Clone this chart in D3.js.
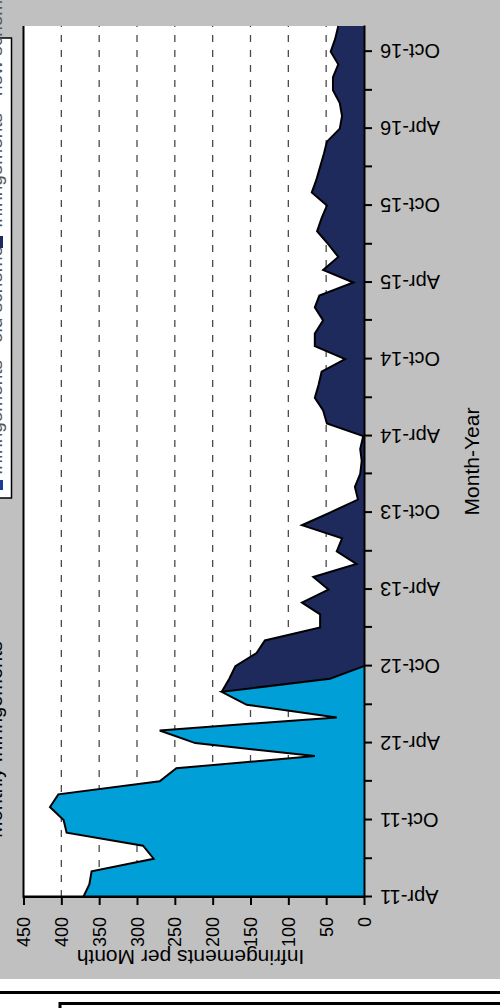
<!DOCTYPE html>
<html lang="en">
<head>
  <meta charset="UTF-8">
  <title>Infringements per Month</title>
  <script src="https://d3js.org/d3.v7.min.js"></script>
  <style>
    body {
      margin: 0;
      background: #fff;
      font-family: "Liberation Sans", Arial, sans-serif;
    }
    svg { display: block; }
    .axis path, .axis line {
      stroke: #000;
      stroke-width: 2px;
    }
    .axis text {
      fill: #000;
      font-family: "Liberation Sans", Arial, sans-serif;
    }
  </style>
</head>
<body>
  <div id="chart"></div>

  <script>
    // Month range of the chart (first and last month shown)
    const firstMonth = "Apr-11";
    const lastMonth = "Dec-16";

    // Old scheme, monthly from Apr-11 to Oct-12
    const oldStart = "Apr-11";
    const oldScheme = [371, 363, 360, 278, 292, 393, 397, 415, 404, 270, 248, 65,
      223, 270, 36, 155, 188, 45, 0];

    // New scheme, monthly from Aug-12 to Dec-16
    const newStart = "Aug-12";
    const newScheme = [188, 178, 170, 142, 131,
      58, 58, 82, 47, 67, 10, 36, 29, 82, 45, 8, 12,
      5, 3, 5, 1, 49, 54, 65, 60, 56, 25, 65, 65,
      54, 65, 59, 14, 54, 34, 47, 62, 56, 49, 69, 63,
      58, 53, 49, 32, 29, 32, 41, 41, 34, 44, 38, 34];

    const valueTicks = [0, 50, 100, 150, 200, 250, 300, 350, 400, 450];
    const gridValues = [50, 100, 150, 200, 250, 300, 350, 400];
    const labelMonths = ["Apr", "Oct"];

    const legendLabels = ["Infringements - old scheme", "Infringements - new scheme"];
    const titleText = "Monthly Infringements";

    const parseMonth = d3.utcParse("%b-%y");
    const fmtMonth = d3.utcFormat("%b-%y");

    const oldData = oldScheme.map((v, i) => ({ date: d3.utcMonth.offset(parseMonth(oldStart), i), value: v }));
    const newData = newScheme.map((v, i) => ({ date: d3.utcMonth.offset(parseMonth(newStart), i), value: v }));

    // The chart is drawn in a 1008x500 frame, then turned a quarter turn
    const fullW = 1008, fullH = 500;
    const margin = { top: 23.5, right: 26, bottom: 136, left: 111 };
    const width = fullW - margin.left - margin.right;
    const height = fullH - margin.top - margin.bottom;

    const svgRoot = d3.select("#chart").append("svg")
      .attr("width", fullH)
      .attr("height", fullW);

    const root = svgRoot.append("g")
      .attr("transform", `translate(0,${fullW}) rotate(-90)`);

    // Grey chart background and the bits of the next panel
    root.append("rect")
      .attr("x", 29).attr("y", 0)
      .attr("width", fullW - 29).attr("height", fullH)
      .attr("fill", "#c0c0c0");

    root.append("line")
      .attr("x1", 15.5).attr("x2", 15.5)
      .attr("y1", 0).attr("y2", fullH)
      .attr("stroke", "#000").attr("stroke-width", 3);

    root.append("path")
      .attr("d", `M0,60 H4.5 V${fullH}`)
      .attr("fill", "none")
      .attr("stroke", "#000").attr("stroke-width", 3);

    // Title, mostly cut off at the edge
    root.append("text")
      .attr("x", 170).attr("y", 1.5)
      .style("font-size", "20px")
      .text(titleText);

    // Legend box, mostly cut off at the edge
    const legend = root.append("g");
    legend.append("rect")
      .attr("x", 510).attr("y", -20)
      .attr("width", 460).attr("height", 31.5)
      .attr("fill", "#fff")
      .attr("stroke", "#000").attr("stroke-width", 1.5);
    legend.append("rect")
      .attr("x", 518).attr("y", -10).attr("width", 10).attr("height", 13)
      .attr("fill", "#1f3a93");
    legend.append("text")
      .attr("x", 533).attr("y", 1.5)
      .style("font-size", "19px")
      .style("fill", "#555")
      .text(legendLabels[0]);
    legend.append("rect")
      .attr("x", 760).attr("y", -10).attr("width", 12).attr("height", 13)
      .attr("fill", "#1f2a5c");
    legend.append("text")
      .attr("x", 780).attr("y", 1.5)
      .style("font-size", "19px")
      .style("fill", "#555")
      .text(legendLabels[1]);

    const svg = root.append("g")
      .attr("transform", `translate(${margin.left},${margin.top})`);

    // Create scales
    const x = d3.scaleUtc()
      .domain([parseMonth(firstMonth), parseMonth(lastMonth)])
      .range([0, width]);

    const y = d3.scaleLinear()
      .domain([0, 450])
      .range([height, 0]);

    // Plot area
    svg.append("rect")
      .attr("width", width).attr("height", height)
      .attr("fill", "#fff");

    // Dashed gridlines
    svg.selectAll(".grid")
      .data(gridValues)
      .enter().append("line")
      .attr("class", "grid")
      .attr("x1", 0).attr("x2", width)
      .attr("y1", d => y(d)).attr("y2", d => y(d))
      .attr("stroke", "#4a4a4a")
      .attr("stroke-width", 1.3)
      .attr("stroke-dasharray", "7,8");

    const area = d3.area()
      .x(d => x(d.date))
      .y0(y(0))
      .y1(d => y(d.value));

    const line = d3.line()
      .x(d => x(d.date))
      .y(d => y(d.value));

    // New scheme sits behind, old scheme in front
    svg.append("path")
      .datum(newData)
      .attr("d", area)
      .attr("fill", "#1f2a5c");

    svg.append("path")
      .datum(oldData)
      .attr("d", area)
      .attr("fill", "#009fd7");

    svg.append("path")
      .datum(newData)
      .attr("d", line)
      .attr("fill", "none")
      .attr("stroke", "#000")
      .attr("stroke-width", 2)
      .attr("stroke-linejoin", "miter");

    svg.append("path")
      .datum(oldData)
      .attr("d", line)
      .attr("fill", "none")
      .attr("stroke", "#000")
      .attr("stroke-width", 2)
      .attr("stroke-linejoin", "miter");

    // Frame on the open sides
    svg.append("path")
      .attr("d", `M0,${height} V0 H${width}`)
      .attr("fill", "none")
      .attr("stroke", "#000")
      .attr("stroke-width", 2);

    // Month axis
    const monthTicks = x.ticks(d3.utcMonth.every(3));
    svg.append("g")
      .attr("class", "axis")
      .attr("transform", `translate(0,${height})`)
      .call(d3.axisBottom(x)
        .tickValues(monthTicks)
        .tickSize(8)
        .tickSizeOuter(0)
        .tickFormat(d => labelMonths.includes(d3.utcFormat("%b")(d)) ? fmtMonth(d) : ""))
      .selectAll(".tick text")
      .attr("transform", "rotate(-90)")
      .attr("x", -16)
      .attr("y", 0)
      .attr("dy", "0.35em")
      .attr("text-anchor", "end")
      .style("font-size", "20px");

    // Value axis
    svg.append("g")
      .attr("class", "axis")
      .call(d3.axisLeft(y)
        .tickValues(valueTicks)
        .tickSize(8)
        .tickSizeOuter(0)
        .tickPadding(12))
      .selectAll(".tick text")
      .attr("dy", "0.34em")
      .style("font-size", "18px");

    // Axis titles
    root.append("text")
      .attr("transform", `translate(58,190.5) rotate(-90)`)
      .attr("text-anchor", "middle")
      .style("font-size", "21px")
      .text("Infringements per Month");

    root.append("text")
      .attr("x", margin.left + width / 2)
      .attr("y", 479)
      .attr("text-anchor", "middle")
      .style("font-size", "21px")
      .text("Month-Year");
  </script>
</body>
</html>
